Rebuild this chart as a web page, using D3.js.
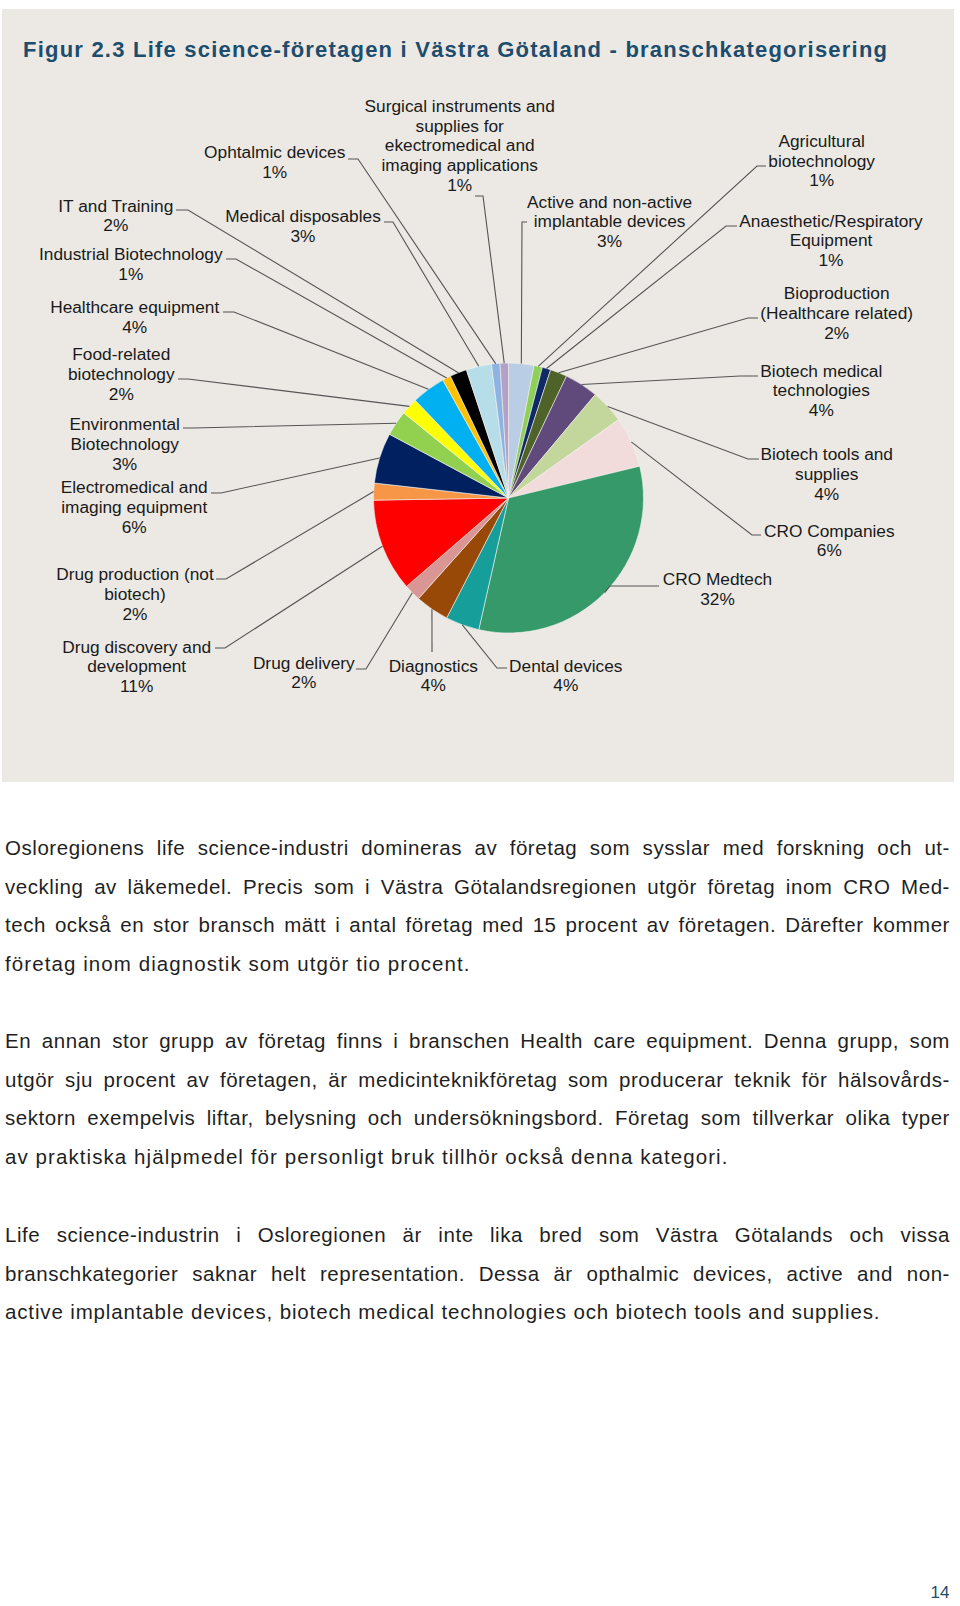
<!DOCTYPE html>
<html>
<head>
<meta charset="utf-8">
<script src="https://cdn.jsdelivr.net/npm/d3@7"></script>
<style>
  body { margin: 0; background: #fff; }
  svg { display: block; font-family: "Liberation Sans", Arial, sans-serif; }
</style>
</head>
<body>
<div id="chart"></div>
<script>
// categories, clockwise from 12 o'clock (alphabetical, as in the source)
const categories = [
  'Active and non-active implantable devices', 'Agricultural biotechnology',
  'Anaesthetic/Respiratory Equipment', 'Bioproduction (Healthcare related)',
  'Biotech medical technologies', 'Biotech tools and supplies', 'CRO Companies',
  'CRO Medtech', 'Dental devices', 'Diagnostics', 'Drug delivery',
  'Drug discovery and development', 'Drug production (not biotech)',
  'Electromedical and imaging equipment', 'Environmental Biotechnology',
  'Food-related biotechnology', 'Healthcare equipment', 'Industrial Biotechnology',
  'IT and Training', 'Medical disposables', 'Ophtalmic devices',
  'Surgical instruments and supplies for ekectromedical and imaging applications'
];
const percents = [3, 1, 1, 2, 4, 4, 6, 32, 4, 4, 2, 11, 2, 6, 3, 2, 4, 1, 2, 3, 1, 1];
const colors = [
  '#b9cde5', '#8fd05a', '#0d2a66', '#4f6228', '#604a7b', '#c3d69b', '#f2dcdb',
  '#36996a', '#169e9b', '#984807', '#d99694', '#ff0000', '#f79646', '#002060',
  '#92d050', '#ffff00', '#00b0f0', '#ffc000', '#000000', '#b7dee8', '#8db3e2', '#b3a2c7'
];

// label layout: wrapped name lines, centre x, first baseline, elbow and attach points
const labelLayout = [
  { lines: ['Active and non-active', 'implantable devices'], cx: 609.6, y: 207.5, elbow: [522, 222], attach: [527, 222] },
  { lines: ['Agricultural', 'biotechnology'], cx: 821.7, y: 146.7, elbow: [757, 166], attach: [766, 166] },
  { lines: ['Anaesthetic/Respiratory', 'Equipment'], cx: 831, y: 226.5, elbow: [726, 226], attach: [737, 226] },
  { lines: ['Bioproduction', '(Healthcare related)'], cx: 836.7, y: 299, elbow: [748, 318], attach: [758, 318] },
  { lines: ['Biotech medical', 'technologies'], cx: 821.3, y: 376.5, elbow: [740, 376], attach: [758, 376] },
  { lines: ['Biotech tools and', 'supplies'], cx: 826.7, y: 460, elbow: [748, 459], attach: [759, 459] },
  { lines: ['CRO Companies'], cx: 829.3, y: 536.5, elbow: [752, 535], attach: [761, 535] },
  { lines: ['CRO Medtech'], cx: 717.5, y: 585, elbow: [610, 586], attach: [659, 586] },
  { lines: ['Dental devices'], cx: 565.8, y: 671.5, elbow: [497, 668], attach: [507, 668] },
  { lines: ['Diagnostics'], cx: 433.3, y: 671.5, elbow: [432, 652], attach: [432, 652] },
  { lines: ['Drug delivery'], cx: 303.8, y: 668.5, elbow: [366, 669], attach: [356, 669] },
  { lines: ['Drug discovery and', 'development'], cx: 136.7, y: 652.5, elbow: [225, 648], attach: [215, 648] },
  { lines: ['Drug production (not', 'biotech)'], cx: 135, y: 580, elbow: [226, 579], attach: [216, 579] },
  { lines: ['Electromedical and', 'imaging equipment'], cx: 134.2, y: 493, elbow: [221, 493], attach: [211, 493] },
  { lines: ['Environmental', 'Biotechnology'], cx: 124.7, y: 430, elbow: [193, 428], attach: [183, 428] },
  { lines: ['Food-related', 'biotechnology'], cx: 121.3, y: 360, elbow: [188, 379], attach: [178, 379] },
  { lines: ['Healthcare equipment'], cx: 134.7, y: 312.7, elbow: [234, 312], attach: [223, 312] },
  { lines: ['Industrial Biotechnology'], cx: 130.8, y: 260, elbow: [236, 259], attach: [226, 259] },
  { lines: ['IT and Training'], cx: 115.8, y: 211.5, elbow: [188, 210], attach: [176, 210] },
  { lines: ['Medical disposables'], cx: 303, y: 221.7, elbow: [393, 222], attach: [384, 222] },
  { lines: ['Ophtalmic devices'], cx: 274.7, y: 158.3, elbow: [358, 159], attach: [348, 159] },
  { lines: ['Surgical instruments and', 'supplies for', 'ekectromedical and', 'imaging applications'], cx: 459.7, y: 111.7, elbow: [483, 196], attach: [475, 196] }
];

const title = 'Figur 2.3 Life science-företagen i Västra Götaland - branschkategorisering';

// body text: each paragraph as its printed lines
const paragraphs = [
  ['Osloregionens life science-industri domineras av företag som sysslar med forskning och ut-',
   'veckling av läkemedel. Precis som i Västra Götalandsregionen utgör företag inom CRO Med-',
   'tech också en stor bransch mätt i antal företag med 15 procent av företagen. Därefter kommer',
   'företag inom diagnostik som utgör tio procent.'],
  ['En annan stor grupp av företag finns i branschen Health care equipment. Denna grupp, som',
   'utgör sju procent av företagen, är medicinteknikföretag som producerar teknik för hälsovårds-',
   'sektorn exempelvis liftar, belysning och undersökningsbord. Företag som tillverkar olika typer',
   'av praktiska hjälpmedel för personligt bruk tillhör också denna kategori.'],
  ['Life science-industrin i Osloregionen är inte lika bred som Västra Götalands och vissa',
   'branschkategorier saknar helt representation. Dessa är opthalmic devices, active and non-',
   'active implantable devices, biotech medical technologies och biotech tools and supplies.']
];
const paraTop = [855, 1048, 1242];
const lastLineEnd = [470, 728, 880];

const width = 960, height = 1606;
const svg = d3.select('#chart').append('svg')
  .attr('width', width).attr('height', height);

// grey panel behind the figure
svg.append('rect')
  .attr('x', 2).attr('y', 9).attr('width', 952).attr('height', 773)
  .attr('fill', '#ece9e4');

svg.append('text')
  .attr('x', 23).attr('y', 57)
  .attr('font-size', 22).attr('font-weight', 'bold')
  .attr('fill', '#1d4d6d')
  .attr('textLength', 864).attr('lengthAdjust', 'spacing')
  .text(title);

// pie
const cx = 508.5, cy = 498, radius = 135;
const pie = d3.pie().value(d => d).sort(null);
const arcs = pie(percents);
const arc = d3.arc().innerRadius(0).outerRadius(radius);
const edge = d3.arc().innerRadius(radius).outerRadius(radius);

const g = svg.append('g').attr('transform', `translate(${cx},${cy})`);
g.selectAll('path.slice')
  .data(arcs)
  .enter()
  .append('path')
  .attr('class', 'slice')
  .attr('d', arc)
  .attr('fill', (d, i) => colors[i])
  .attr('stroke', '#f4f2ee')
  .attr('stroke-width', 0.6);

// leader lines
const line = d3.line();
svg.append('g').selectAll('path')
  .data(arcs)
  .enter()
  .append('path')
  .attr('d', (d, i) => {
    const p = edge.centroid(d);
    const L = labelLayout[i];
    return line([[p[0] + cx, p[1] + cy], L.elbow, L.attach]);
  })
  .attr('fill', 'none')
  .attr('stroke', '#555')
  .attr('stroke-width', 1.1);

// labels
const labels = svg.append('g')
  .attr('font-size', 17.3)
  .attr('fill', '#1a1a1a')
  .attr('text-anchor', 'middle');
labelLayout.forEach((L, i) => {
  const t = labels.append('text').attr('x', L.cx).attr('y', L.y);
  L.lines.concat([percents[i] + '%']).forEach((s, k) => {
    t.append('tspan').attr('x', L.cx).attr('dy', k === 0 ? 0 : 19.8).text(s);
  });
});

// body text, justified: a little letter spacing, rest goes into word gaps
const body = svg.append('g')
  .attr('font-size', 20.5)
  .attr('letter-spacing', 0.55)
  .attr('fill', '#1f1f1f');
paragraphs.forEach((lines, pi) => {
  lines.forEach((s, li) => {
    const y = paraTop[pi] + li * 38.5;
    const t = body.append('text').attr('x', 5).attr('y', y).text(s);
    const last = li === lines.length - 1;
    const target = (last ? lastLineEnd[pi] : 950) - 5;
    const w = t.node().getComputedTextLength();
    if (last) {
      t.attr('textLength', target).attr('lengthAdjust', 'spacing');
    } else {
      const spaces = (s.match(/ /g) || []).length;
      t.attr('word-spacing', (target - w) / spaces);
    }
  });
});

svg.append('text')
  .attr('x', 940).attr('y', 1598)
  .attr('text-anchor', 'middle')
  .attr('font-size', 17)
  .attr('fill', '#1d4d6d')
  .text('14');
</script>
</body>
</html>
